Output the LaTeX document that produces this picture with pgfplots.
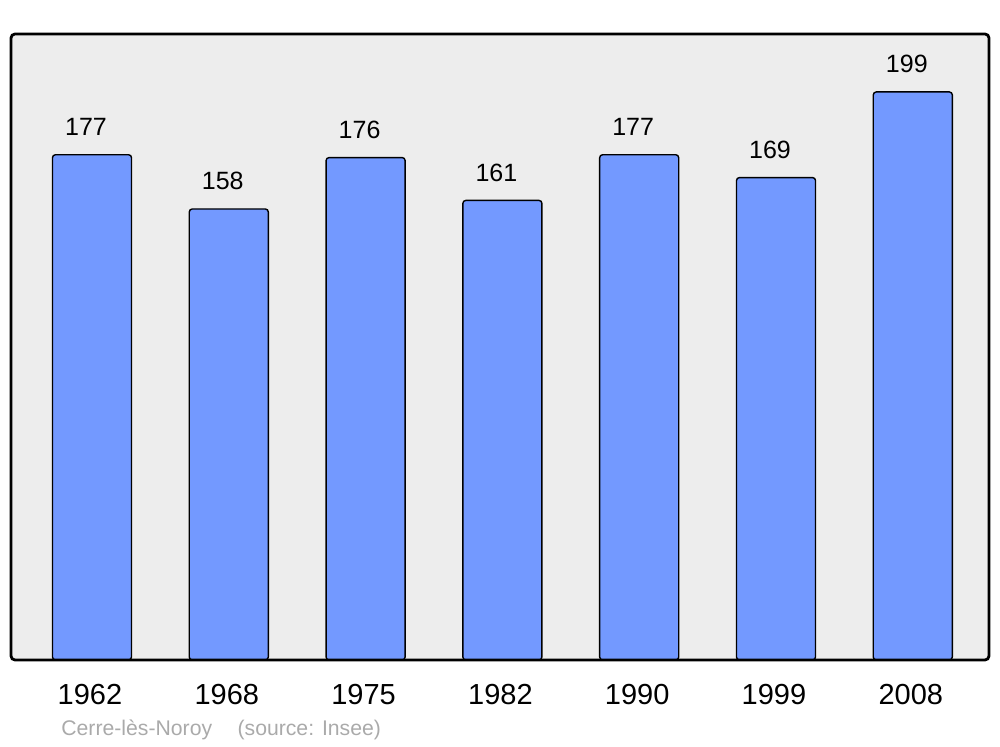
\documentclass[border=0pt]{standalone}
\usepackage{pgfplots}
\pgfplotsset{compat=1.18}
\usepackage{fontspec}
\setmainfont{Liberation Sans}
\definecolor{barCol}{HTML}{7399FF}
\definecolor{bgCol}{HTML}{EDEDED}
\definecolor{srcCol}{HTML}{AAAAAA}

\begin{document}
\begin{tikzpicture}
% page area (1000x747 px at 0.5pt per px)
\path (0,0) rectangle (500pt,373.5pt);
\fill[bgCol, rounded corners=2pt] (5.5pt,43.5pt) rectangle (494.5pt,356.5pt);
\begin{axis}[
    at={(5.5pt,43.5pt)}, anchor=south west,
    scale only axis,
    width=489pt, height=313pt,
    xmin=-0.592, xmax=6.557,
    ymin=0, ymax=219.3,
    axis line style={draw=none},
    ytick=\empty,
    xtick={0,1,2,3,4,5,6},
    xticklabels={1962,1968,1975,1982,1990,1999,2008},
    major tick length=0pt,
    xticklabel style={anchor=center, yshift=-17.5pt, xshift=-1pt, font=\fontsize{14.5pt}{16pt}\selectfont},
    ybar, bar width=0.578,
    /pgf/number format/assume math mode=true,
    nodes near coords,
    nodes near coords style={anchor=center, yshift=14pt, xshift=-3pt, font=\fontsize{12.5pt}{14pt}\selectfont, black},
    clip=false,
]
\addplot[fill=barCol, draw=black, line width=0.7pt, rounded corners=1.5pt] coordinates {
    (0,177) (1,158) (2,176) (3,161) (4,177) (5,169) (6,199)
};
\end{axis}
\draw[black, line width=1.4pt, rounded corners=2pt] (5.5pt,43.5pt) rectangle (494.5pt,356.5pt);
\node[anchor=west, srcCol, inner sep=0pt, font=\fontsize{10.6pt}{12pt}\selectfont] at (30.5pt,8.5pt) {Cerre-lès-Noroy\hspace{1.2em}(source: Insee)};
\end{tikzpicture}
\end{document}
